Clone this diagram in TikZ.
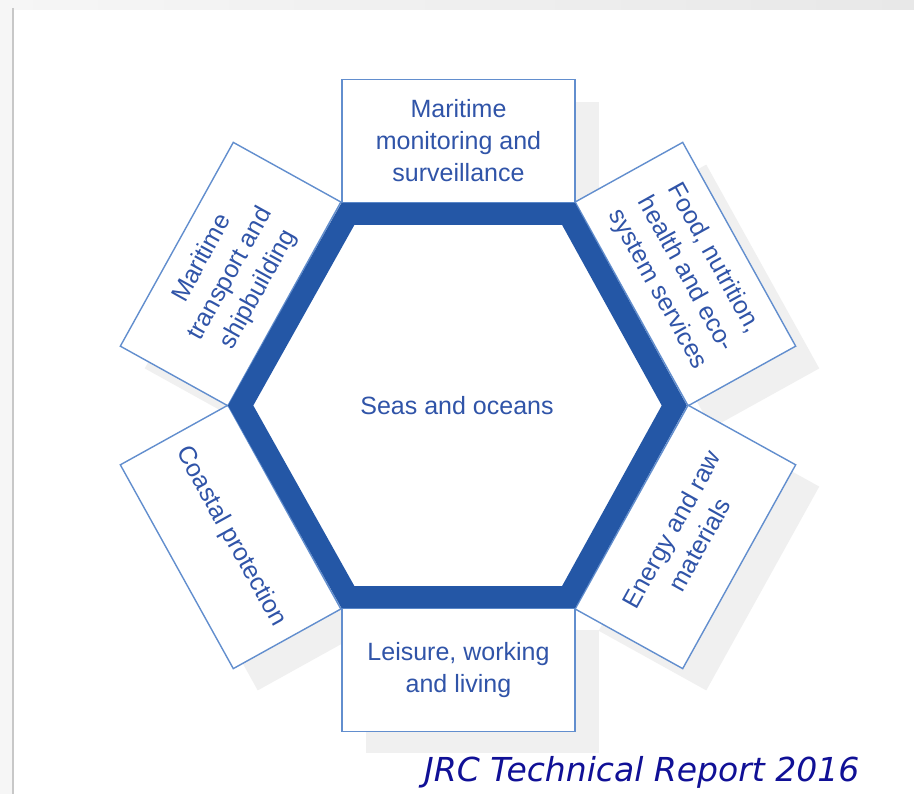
\documentclass[tikz,border=0pt]{standalone}
\usepackage{fontspec}
\setmainfont{Liberation Sans}
\newfontfamily\jrcfont{DejaVu Sans}
\usetikzlibrary{calc}
\definecolor{hexblue}{RGB}{36,87,166}
\definecolor{boxline}{RGB}{98,142,206}
\definecolor{boxtext}{RGB}{48,84,168}
\definecolor{shadowgray}{RGB}{240,240,240}
\definecolor{jrcblue}{RGB}{16,16,150}
\definecolor{bandleft}{RGB}{246,246,246}
\definecolor{bandright}{RGB}{232,232,232}
\definecolor{edgeline}{RGB}{200,200,200}
\begin{document}
\begin{tikzpicture}[x=1pt,y=-1pt,
  boxcore/.style={minimum width=233pt, minimum height=123pt, inner sep=0pt},
  box/.style={boxcore, draw=boxline, line width=1.4pt, fill=white, align=center,
    text=boxtext, font=\fontsize{25}{32}\selectfont},
  boxshadow/.style={boxcore, fill=shadowgray},
  hexline/.style={draw=hexblue, line width=22pt, line join=miter, fill=white}]
\useasboundingbox (0,0) rectangle (914,794);
% page background
\fill[white] (0,0) rectangle (914,794);
\shade[left color=bandleft, right color=bandright] (0,0) rectangle (914,10);
\fill[bandleft] (0,10) rectangle (12,794);
\draw[edgeline, line width=1.6pt] (13,8) -- (13,794);
% outer hexagon vertices
\coordinate (oL) at (228,405.5);
\coordinate (oTL) at (342,203);
\coordinate (oTR) at (575,203);
\coordinate (oR) at (687,405.5);
\coordinate (oBR) at (575,608);
\coordinate (oBL) at (342,608);
% side midpoints
\coordinate (mT) at ($(oTL)!0.5!(oTR)$);
\coordinate (mTR) at ($(oTR)!0.5!(oR)$);
\coordinate (mBR) at ($(oR)!0.5!(oBR)$);
\coordinate (mB) at ($(oBR)!0.5!(oBL)$);
\coordinate (mBL) at ($(oBL)!0.5!(oL)$);
\coordinate (mTL) at ($(oL)!0.5!(oTL)$);
% shadows
\node[boxshadow, anchor=south] (sT) at ($(mT)+(24,22)$) {};
\node[boxshadow, anchor=south, rotate=-61] (sTR) at ($(mTR)+(24,22)$) {};
\node[boxshadow, anchor=north, rotate=61] (sBR) at ($(mBR)+(24,22)$) {};
\node[boxshadow, anchor=north] (sB) at ($(mB)+(24,22)$) {};
\node[boxshadow, anchor=north, rotate=-61] (sBL) at ($(mBL)+(24,22)$) {};
\node[boxshadow, anchor=south, rotate=61] (sTL) at ($(mTL)+(24,22)$) {};
% boxes
\node[box, anchor=south] (bT) at (mT) {Maritime\\monitoring and\\surveillance};
\node[box, anchor=south, rotate=-61] (bTR) at (mTR) {Food, nutrition,\\health and eco-\\system services};
\node[box, anchor=north, rotate=61] (bBR) at (mBR) {Energy and raw\\materials};
\node[box, anchor=north] (bB) at (mB) {Leisure, working\\and living};
\node[box, anchor=north, rotate=-61] (bBL) at (mBL) {Coastal protection};
\node[box, anchor=south, rotate=61] (bTL) at (mTL) {Maritime\\transport and\\shipbuilding};
% hexagon
\draw[hexline] (240.7,405.5) -- (347.9,214) -- (568.6,214) -- (674.3,405.5)
  -- (568.6,597) -- (347.9,597) -- cycle;
\node[text=boxtext, font=\fontsize{25}{32}\selectfont] (core) at (457,405.5) {Seas and oceans};
% caption
\node[anchor=base west, inner sep=0pt, text=jrcblue, font=\jrcfont\itshape\fontsize{33}{38}\selectfont] (cap) at (424,781) {JRC Technical Report 2016};
\end{tikzpicture}
\end{document}
